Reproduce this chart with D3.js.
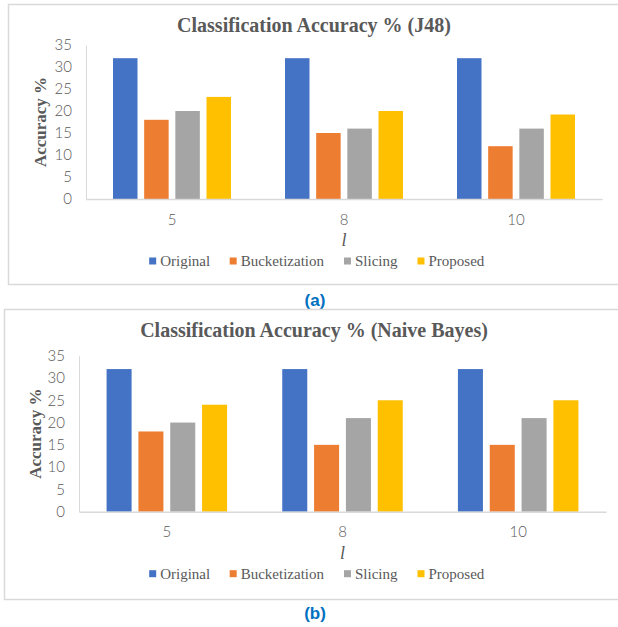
<!DOCTYPE html>
<html>
<head>
<meta charset="utf-8">
<script src="https://cdn.jsdelivr.net/npm/d3@7"></script>
<style>
  html, body { margin: 0; padding: 0; background: #fff; }
  svg { display: block; }
</style>
</head>
<body>
<svg id="chart" width="618" height="627"></svg>
<script>
// ---- data ----
const categories = ["5", "8", "10"];
const seriesNames = ["Original", "Bucketization", "Slicing", "Proposed"];
const seriesColors = ["#4472C4", "#ED7D31", "#A5A5A5", "#FFC000"];
const yTicks = [0, 5, 10, 15, 20, 25, 30, 35];

const j48Original      = [32, 32, 32];
const j48Bucketization = [18, 15, 12];
const j48Slicing       = [20, 16, 16];
const j48Proposed      = [23.2, 20, 19.2];

const nbOriginal      = [32, 32, 32];
const nbBucketization = [18, 15, 15];
const nbSlicing       = [20, 21, 21];
const nbProposed      = [24, 25, 25];

const titleA = "Classification Accuracy % (J48)";
const titleB = "Classification Accuracy % (Naive Bayes)";
const yTitle = "Accuracy %";
const xTitle = "l";

const svg = d3.select("#chart");
const TXT = "#595959";
const SERIF = "'Liberation Serif', 'Times New Roman', serif";
const SANS = "Lato, 'Noto Sans', sans-serif";

function drawChart(o) {
  const g = svg.append("g");
  // frame
  g.append("rect").attr("x", o.box[0] + 0.5).attr("y", o.box[1] + 0.5)
    .attr("width", o.box[2]).attr("height", o.box[3])
    .attr("fill", "#fff").attr("stroke", "#D9D9D9").attr("stroke-width", 1.5);

  const x0 = d3.scaleBand().domain(categories).range([o.left, o.right])
    .paddingInner(0.314).paddingOuter(0.157);
  const x1 = d3.scaleBand().domain(seriesNames).range([0, x0.bandwidth()])
    .paddingInner(0.214).paddingOuter(0);
  const y = d3.scaleLinear().domain([0, 35]).range([o.bottom, o.top]);

  // title
  g.append("text").attr("x", o.titleX).attr("y", o.titleY)
    .attr("text-anchor", "middle").attr("font-family", SERIF)
    .attr("font-weight", "bold").attr("font-size", 20).attr("fill", TXT)
    .text(o.title);

  // y axis
  const yAxis = d3.axisLeft(y).tickValues(yTicks).tickSize(0).tickPadding(14);
  const ya = g.append("g").attr("transform", `translate(${o.left},0)`).call(yAxis);
  ya.select(".domain").attr("stroke", "#D9D9D9");
  ya.selectAll("text").attr("font-family", SANS).attr("font-size", 15)
    .attr("font-weight", 300).attr("fill", TXT);

  // bars
  const data = categories.map((c, i) => ({ c, vals: o.series.map((s, j) => ({ name: seriesNames[j], v: s[i], col: seriesColors[j] })) }));
  const grp = g.selectAll(".grp").data(data).enter().append("g")
    .attr("transform", d => `translate(${x0(d.c)},0)`);
  grp.selectAll("rect").data(d => d.vals).enter().append("rect")
    .attr("x", d => x1(d.name)).attr("width", x1.bandwidth())
    .attr("y", d => y(d.v)).attr("height", d => y(0) - y(d.v))
    .attr("fill", d => d.col);

  // x axis
  const xAxis = d3.axisBottom(x0).tickSize(0).tickPadding(15);
  const xa = g.append("g").attr("transform", `translate(0,${o.bottom})`).call(xAxis);
  xa.select(".domain").attr("stroke", "#D9D9D9").attr("stroke-width", 1.5);
  xa.selectAll("text").attr("font-family", SANS).attr("font-size", 15)
    .attr("font-weight", 300).attr("fill", TXT);

  // axis titles
  const cx = (o.left + o.right) / 2;
  g.append("text").attr("x", cx).attr("y", o.bottom + 47)
    .attr("text-anchor", "middle").attr("font-family", SERIF)
    .attr("font-style", "italic").attr("font-size", 18).attr("fill", TXT).text(xTitle);
  const cy = (o.top + o.bottom) / 2;
  g.append("text").attr("transform", `translate(${o.yTitleX},${cy}) rotate(-90)`)
    .attr("text-anchor", "middle").attr("dominant-baseline", "central")
    .attr("font-family", SERIF).attr("font-weight", "bold").attr("font-size", 17)
    .attr("fill", TXT).text(yTitle);

  // legend
  const lg = g.append("g").attr("transform", `translate(0,${o.bottom + 62})`);
  const items = lg.selectAll("g").data(seriesNames).enter().append("g");
  items.append("rect").attr("y", -3.5).attr("width", 7).attr("height", 7)
    .attr("fill", (d, i) => seriesColors[i]);
  items.append("text").attr("x", 11).attr("y", 5).attr("font-family", SERIF)
    .attr("font-size", 15).attr("fill", TXT).text(d => d);
  let pos = 0;
  const widths = [];
  items.each(function () { widths.push(this.getBBox().width); });
  const total = d3.sum(widths) + 19.5 * (widths.length - 1);
  pos = o.legendCX - total / 2;
  items.attr("transform", (d, i) => {
    const p = pos; pos += widths[i] + 19.5; return `translate(${p},0)`;
  });

  // caption
  svg.append("text").attr("x", o.capX).attr("y", o.capY).attr("text-anchor", "middle")
    .attr("font-family", "'Liberation Sans', Arial, sans-serif").attr("font-weight", "bold")
    .attr("font-size", 17).attr("fill", "#0070C0").text(o.caption);
}

drawChart({
  box: [8, 4, 620, 280], left: 86, right: 602, top: 45, bottom: 199,
  title: titleA, titleX: 314, titleY: 32, yTitleX: 40, legendCX: 317,
  series: [j48Original, j48Bucketization, j48Slicing, j48Proposed],
  caption: "(a)", capX: 315, capY: 306
});
drawChart({
  box: [4, 309, 625, 290], left: 79, right: 606, top: 355.7, bottom: 511.7,
  title: titleB, titleX: 314, titleY: 337, yTitleX: 35, legendCX: 317,
  series: [nbOriginal, nbBucketization, nbSlicing, nbProposed],
  caption: "(b)", capX: 315, capY: 619
});
</script>
</body>
</html>
